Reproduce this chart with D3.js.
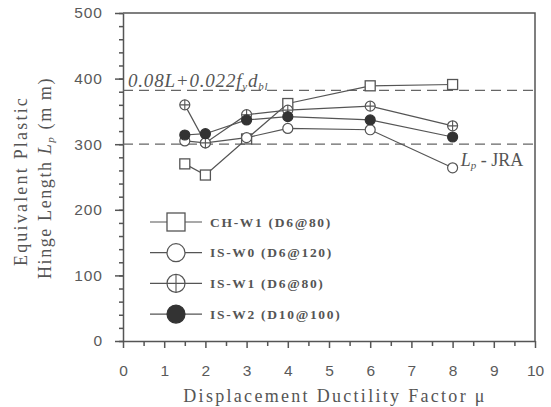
<!DOCTYPE html>
<html lang="en">
<head>
  <meta charset="UTF-8">
  <title>Plastic hinge length</title>
  <script src="https://d3js.org/d3.v7.min.js"></script>
  <style>
    body { margin: 0; background: #fff; }
    .tick text { font: 15.5px "Liberation Sans", Arial, sans-serif; fill: #5a5a5a; }
    .tick line, .domain { stroke: #555; }
    .serif { font-family: "Liberation Serif", "Times New Roman", serif; fill: #555; }
  </style>
</head>
<body>
<div id="chart"></div>
<script>
  // data
  const ductility = [1.5, 2, 3, 4, 6, 8];
  const chW1 = [270, 253, 308, 362, 389, 391];
  const isW0 = [305, 302, 310, 324, 322, 264];
  const isW1 = [360, 302, 345, 352, 358, 328];
  const isW2 = [314, 316, 337, 342, 337, 311];
  const seriesNames = ["CH-W1 (D6@80)", "IS-W0 (D6@120)", "IS-W1 (D6@80)", "IS-W2 (D10@100)"];
  const seriesMarks = ["square", "circle", "plus", "filled"];
  const refLines = [382, 300];
  const xTicks = [0, 1, 2, 3, 4, 5, 6, 7, 8, 9, 10];
  const yTicks = [0, 100, 200, 300, 400, 500];

  const width = 551, height = 407;
  const margin = {top: 13, right: 16, bottom: 66, left: 123};
  const w = width - margin.left - margin.right;
  const h = height - margin.top - margin.bottom;

  const svg = d3.select("#chart").append("svg")
    .attr("width", width)
    .attr("height", height);

  const g = svg.append("g").attr("transform", `translate(${margin.left},${margin.top})`);

  const x = d3.scaleLinear().domain([0, 10]).range([0, w]);
  const y = d3.scaleLinear().domain([0, 500]).range([h, 0]);

  // minor ticks first
  g.append("g")
    .attr("transform", `translate(0,${h})`)
    .call(d3.axisBottom(x).tickValues(d3.range(0.5, 10, 1)).tickSize(5).tickFormat(""))
    .call(s => s.select(".domain").remove());
  g.append("g")
    .call(d3.axisLeft(y).tickValues(d3.range(0, 501, 20)).tickSize(4).tickFormat(""))
    .call(s => s.select(".domain").remove());

  g.append("g")
    .attr("transform", `translate(0,${h})`)
    .call(d3.axisBottom(x).tickValues(xTicks).tickSize(7).tickSizeOuter(0).tickPadding(17));
  g.append("g")
    .call(d3.axisLeft(y).tickValues(yTicks).tickSize(8).tickSizeOuter(0).tickPadding(12))
    .selectAll(".tick text").attr("letter-spacing", 1);
  g.selectAll(".tick line, .domain").attr("stroke-width", 1.5);

  // frame top + right
  g.append("path")
    .attr("d", `M0,0H${w}V${h}`)
    .attr("fill", "none").attr("stroke", "#555").attr("stroke-width", 1.5);

  // dashed reference lines
  g.selectAll(".ref").data(refLines).enter().append("line")
    .attr("x1", 0).attr("x2", w)
    .attr("y1", d => y(d)).attr("y2", d => y(d))
    .attr("stroke", "#666").attr("stroke-width", 1.2)
    .attr("stroke-dasharray", "10,6");

  const allSeries = [chW1, isW0, isW1, isW2];
  const line = d3.line().x((d, i) => x(ductility[i])).y(d => y(d));

  function drawMarker(sel, type, size) {
    const r = size / 2;
    if (type === "square") {
      sel.append("rect").attr("x", -r).attr("y", -r).attr("width", size).attr("height", size)
        .attr("fill", "#fff").attr("stroke", "#555").attr("stroke-width", 1.3);
    } else {
      sel.append("circle").attr("r", r)
        .attr("fill", type === "filled" ? "#333" : "#fff")
        .attr("stroke", type === "filled" ? "#333" : "#555").attr("stroke-width", 1.2);
      if (type === "plus") {
        sel.append("path").attr("d", `M${-r},0H${r}M0,${-r}V${r}`)
          .attr("stroke", "#555").attr("stroke-width", 1.1);
      }
    }
  }

  allSeries.forEach(vals => {
    g.append("path").datum(vals)
      .attr("d", line)
      .attr("fill", "none").attr("stroke", "#555").attr("stroke-width", 1.2);
  });
  allSeries.forEach((vals, si) => {
    vals.forEach((v, i) => {
      const m = g.append("g").attr("transform", `translate(${x(ductility[i])},${y(v)})`);
      drawMarker(m, seriesMarks[si], 10);
    });
  });

  // legend
  const legend = g.append("g").attr("transform", `translate(27, ${222 - margin.top})`);
  seriesNames.forEach((name, i) => {
    const row = legend.append("g").attr("transform", `translate(0,${i * 30.7})`);
    row.append("line").attr("x1", 0).attr("x2", 52)
      .attr("stroke", "#555").attr("stroke-width", 1.2);
    drawMarker(row.append("g").attr("transform", "translate(26,0)"), seriesMarks[i], 18);
    row.append("text").attr("class", "serif")
      .attr("x", 60).attr("y", 4.5)
      .attr("font-size", 13.5).attr("font-weight", "bold")
      .attr("letter-spacing", 1.7)
      .text(name);
  });

  // annotations
  const ann1 = g.append("text").attr("class", "serif")
    .attr("x", 5).attr("y", y(382) - 3)
    .attr("font-size", 19).attr("font-style", "italic").attr("letter-spacing", 0.8);
  ann1.append("tspan").text("0.08L+0.022f");
  ann1.append("tspan").attr("font-size", 11).attr("dy", 3).text("y");
  ann1.append("tspan").attr("dy", -3).text("d");
  ann1.append("tspan").attr("font-size", 11).attr("dy", 3).text("bl");

  const ann2 = g.append("text").attr("class", "serif")
    .attr("x", x(8.2)).attr("y", y(300) + 22)
    .attr("font-size", 18);
  ann2.append("tspan").attr("font-style", "italic").text("L");
  ann2.append("tspan").attr("font-style", "italic").attr("font-size", 11).attr("dy", 3).text("p");
  ann2.append("tspan").attr("dy", -3).text(" - JRA");

  // axis titles
  svg.append("text").attr("class", "serif")
    .attr("x", margin.left + w / 2 + 6).attr("y", 402)
    .attr("text-anchor", "middle")
    .attr("font-size", 18).attr("letter-spacing", 2.3)
    .text("Displacement Ductility Factor μ");

  const cy = margin.top + h / 2;
  svg.append("text").attr("class", "serif")
    .attr("transform", `translate(27,${cy + 4}) rotate(-90)`)
    .attr("text-anchor", "middle")
    .attr("font-size", 18).attr("letter-spacing", 2.2)
    .text("Equivalent Plastic");
  const yt2 = svg.append("text").attr("class", "serif")
    .attr("transform", `translate(51,${cy + 1}) rotate(-90)`)
    .attr("text-anchor", "middle")
    .attr("font-size", 18).attr("letter-spacing", 1.6);
  yt2.append("tspan").text("Hinge Length ");
  yt2.append("tspan").attr("font-style", "italic").text("L");
  yt2.append("tspan").attr("font-style", "italic").attr("font-size", 11).attr("dy", 3).text("p");
  yt2.append("tspan").attr("dy", -3).text(" (m m)");
</script>
</body>
</html>
